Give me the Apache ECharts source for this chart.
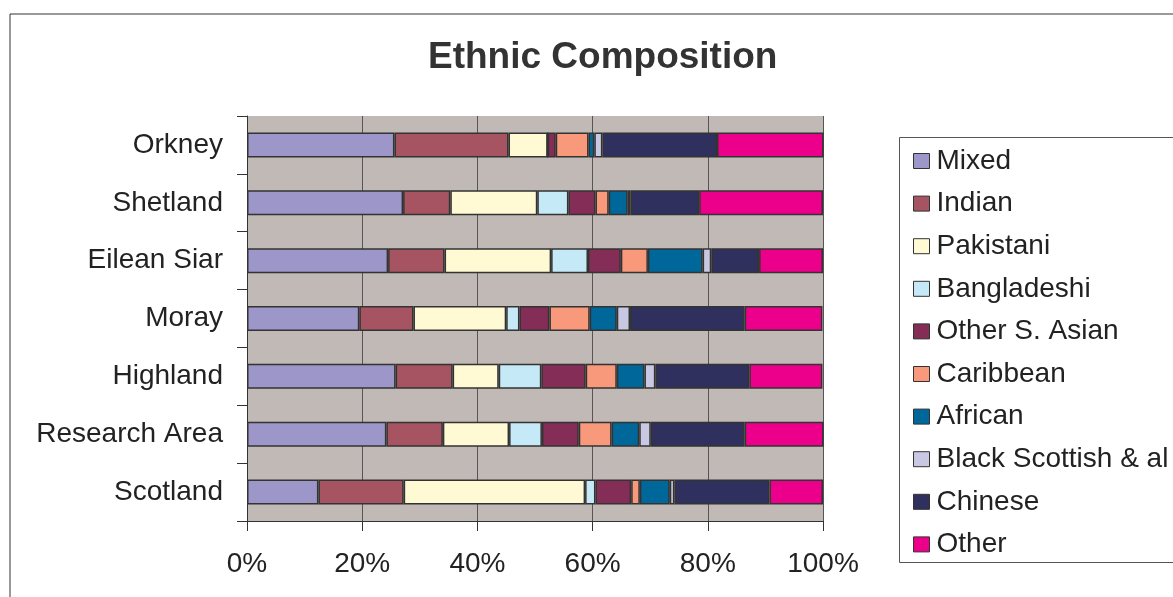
<!DOCTYPE html>
<html>
<head>
<meta charset="utf-8">
<script src="https://cdn.jsdelivr.net/npm/echarts@6/dist/echarts.min.js"></script>
<style>
  html, body { margin: 0; padding: 0; background: #fff; }
  #chart { width: 1173px; height: 597px; }
</style>
</head>
<body>
<div id="chart"></div>
<script>
// 地区（从上到下）
const areas = ['Orkney', 'Shetland', 'Eilean Siar', 'Moray', 'Highland', 'Research Area', 'Scotland'];

// 各族群占比（%），顺序与 areas 一致
const mixed       = [25.6, 27.1, 24.5, 19.5, 25.8, 24.2, 12.4];
const indian      = [19.8,  8.2,  9.8,  9.4,  9.9,  9.8, 14.8];
const pakistani   = [ 6.8, 15.1, 18.5, 16.1,  8.0, 11.5, 31.5];
const bangladeshi = [ 0.0,  5.4,  6.4,  2.3,  7.4,  5.7,  1.8];
const otherSAsian = [ 1.4,  4.7,  5.7,  5.2,  7.7,  6.4,  6.2];
const caribbean   = [ 5.7,  2.3,  4.7,  7.0,  5.4,  5.7,  1.5];
const african     = [ 1.0,  3.3,  9.5,  4.7,  4.8,  4.8,  5.2];
const blackScot   = [ 1.4,  0.5,  1.5,  2.3,  1.9,  2.0,  0.8];
const chinese     = [19.9, 11.9,  8.3, 19.9, 16.3, 16.3, 16.5];
const other       = [18.5, 21.5, 11.1, 13.5, 12.7, 13.7,  9.3];

const groupNames = ['Mixed', 'Indian', 'Pakistani', 'Bangladeshi', 'Other S. Asian',
    'Caribbean', 'African', 'Black Scottish & al', 'Chinese', 'Other'];
const groupValues = [mixed, indian, pakistani, bangladeshi, otherSAsian,
    caribbean, african, blackScot, chinese, other];

const colors = ['#9C97C8', '#A65461', '#FFFAD4', '#C6E9F8', '#832D57',
    '#F7997A', '#00679A', '#C9C8E2', '#30305E', '#EC008B'];

const chart = echarts.init(document.getElementById('chart'));
const fontFamily = '"Liberation Sans", Arial, sans-serif';

const series = groupNames.map((name, i) => ({
    name: name,
    type: 'bar',
    stack: 'total',
    barWidth: 25,
    data: groupValues[i],
    itemStyle: {
        color: colors[i],
        borderColor: '#333',
        borderWidth: 1.5
    }
}));

const option = {
    backgroundColor: '#fff',
    animation: false,
    title: {
        text: 'Ethnic Composition',
        left: 423,
        top: 34,
        textStyle: {
            fontFamily: fontFamily,
            fontSize: 37,
            lineHeight: 37,
            fontWeight: 'bold',
            color: '#333'
        }
    },
    legend: {
        orient: 'vertical',
        left: 908,
        top: 142,
        itemWidth: 16,
        itemHeight: 15,
        itemGap: 14.6,
        icon: 'rect',
        itemStyle: { borderColor: '#333', borderWidth: 1 },
        textStyle: {
            fontFamily: fontFamily,
            fontSize: 28,
            lineHeight: 28,
            padding: [0, 0, 0, 2],
            color: '#222'
        },
        data: groupNames
    },
    grid: {
        left: 247,
        right: 350,
        top: 116,
        bottom: 76,
        show: true,
        backgroundColor: '#C1B9B5',
        borderWidth: 0
    },
    xAxis: {
        type: 'value',
        min: 0,
        max: 100,
        interval: 20,
        axisLine: { show: true, lineStyle: { color: '#333', width: 1 } },
        axisTick: { show: true, length: 10, lineStyle: { color: '#333' } },
        axisLabel: {
            formatter: '{value}%',
            margin: 29,
            fontFamily: fontFamily,
            fontSize: 28,
            color: '#222'
        },
        splitLine: { show: true, lineStyle: { color: '#555', width: 1 } }
    },
    yAxis: {
        type: 'category',
        inverse: true,
        data: areas,
        axisLine: { show: true, lineStyle: { color: '#333', width: 1 } },
        axisTick: { show: true, length: 10, lineStyle: { color: '#333' } },
        axisLabel: {
            margin: 24,
            fontFamily: fontFamily,
            fontSize: 28,
            color: '#222'
        }
    },
    graphic: [
        {
            type: 'rect',
            shape: { x: 10, y: 14, width: 1200, height: 620 },
            style: { fill: null, stroke: '#333', lineWidth: 1 },
            silent: true,
            z: -1
        },
        {
            type: 'rect',
            shape: { x: 899.5, y: 137.5, width: 300, height: 425 },
            style: { fill: null, stroke: '#555', lineWidth: 1 },
            silent: true
        }
    ],
    series: series
};

chart.setOption(option);

window.addEventListener('resize', function() {
    chart.resize();
});
</script>
</body>
</html>
